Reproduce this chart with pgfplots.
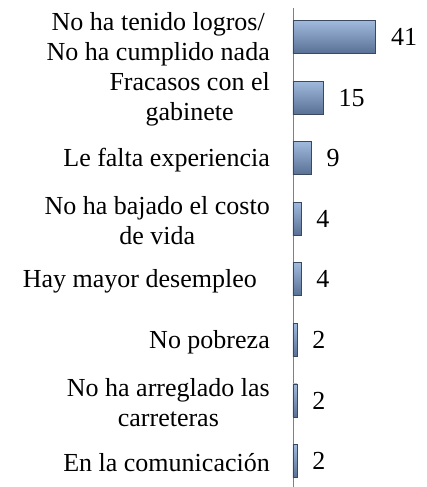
\documentclass[border=0pt]{standalone}
\usepackage{fontspec}
\setmainfont{Liberation Serif}
\usepackage{pgfplots}
\pgfplotsset{compat=1.18}
\definecolor{barlight}{RGB}{208,224,243}
\definecolor{bartop}{RGB}{160,186,222}
\definecolor{bardark}{RGB}{88,112,148}
\definecolor{baredge}{RGB}{58,72,96}
\pgfplotsset{bev/.style={draw=baredge, line width=0.8bp, top color=bartop, middle color=barlight, bottom color=bardark}}
\begin{document}
\begin{tikzpicture}
\path[use as bounding box] (-293bp,0) rectangle (134bp,487bp);
\begin{axis}[
 at={(0,0)}, anchor=south west,
 scale only axis, width=121bp, height=479bp,
 xmin=0, xmax=60,
 ymin=-0.48, ymax=7.43, y dir=reverse,
 xbar, bar width=33bp, bar shift=0pt,
 axis x line=none,
 axis y line*=left,
 y axis line style={draw=gray, line width=0.9bp, -},
 ytick={0,...,7}, major tick length=0,
 yticklabels={{No ha tenido logros/\\No ha cumplido nada},{Fracasos con el\\gabinete},{Le falta experiencia},{No ha bajado el costo\\de vida},{Hay mayor desempleo\hspace{0.5em}},{No pobreza},{No ha arreglado las\\carreteras},{En la comunicación}},
 yticklabel style={font=\fontsize{26bp}{30bp}\selectfont, align=center, anchor=east, inner sep=0pt, xshift=-23bp, yshift=-2bp},
 nodes near coords,
 nodes near coords style={font=\fontsize{26bp}{30bp}\selectfont, anchor=west, inner sep=0pt, xshift=15bp, text=black},
 /pgf/number format/assume math mode=true,
 clip=false,
]
\addplot[bev] coordinates {(41,0)};
\addplot[bev] coordinates {(15,1)};
\addplot[bev] coordinates {(9,2)};
\addplot[bev] coordinates {(4,3)};
\addplot[bev] coordinates {(4,4)};
\addplot[bev] coordinates {(2,5)};
\addplot[bev] coordinates {(2,6)};
\addplot[bev] coordinates {(2,7)};
\end{axis}
\end{tikzpicture}
\end{document}
